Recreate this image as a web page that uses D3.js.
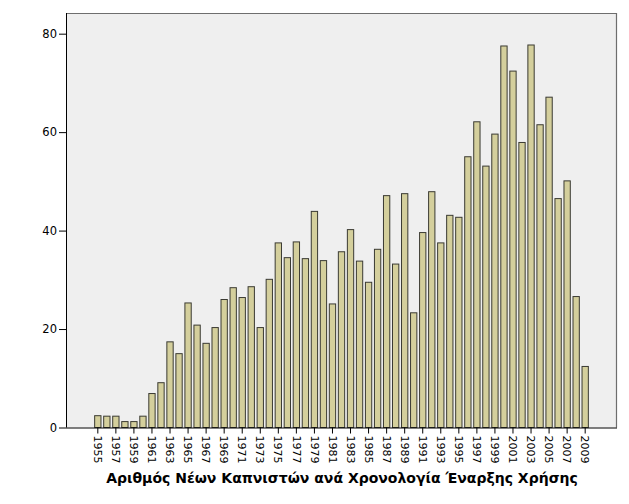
<!DOCTYPE html>
<html>
<head>
<meta charset="utf-8">
<script src="https://cdn.jsdelivr.net/npm/d3@7"></script>
<style>
  body { margin: 0; background: #fff; }
  svg { display: block; }
</style>
</head>
<body>
<svg id="chart" width="629" height="504"></svg>
<script>
const years = d3.range(1955, 2010);
const counts = [
  2.4, 2.3, 2.3, 1.2, 1.2, 2.3, 6.9, 9.1, 17.4, 15.0,
  25.3, 20.8, 17.1, 20.3, 26.0, 28.4, 26.4, 28.6, 20.3, 30.1,
  37.5, 34.5, 37.7, 34.3, 43.9, 33.9, 25.1, 35.7, 40.2, 33.8,
  29.5, 36.2, 47.1, 33.2, 47.5, 23.3, 39.6, 47.9, 37.5, 43.1,
  42.7, 55.0, 62.1, 53.1, 59.6, 77.5, 72.4, 57.9, 77.7, 61.5,
  67.1, 46.5, 50.1, 26.6, 12.4
];
const yTicks = [0, 20, 40, 60, 80];
const xTickYears = years.filter(y => (y - 1955) % 2 === 0);
const title = "Αριθμός Νέων Καπνιστών ανά Χρονολογία Έναρξης Χρήσης";

(function () {
const svg = d3.select("#chart");
const mLeft = 66, mRight = 617, mTop = 13, mBottom = 427.5;

const x = d3.scaleBand()
  .domain(years)
  .range([mLeft, mRight])
  .paddingInner(0.19)
  .paddingOuter(3.12);

const y = d3.scaleLinear()
  .domain([0, 84.2])
  .range([mBottom, mTop]);

svg.append("rect")
  .attr("x", mLeft).attr("y", mTop)
  .attr("width", mRight - mLeft).attr("height", mBottom - mTop)
  .attr("fill", "#efefef");

svg.append("path")
  .attr("d", `M${mLeft},${mTop + 0.5}H${mRight - 0.5}V${mBottom}`)
  .attr("fill", "none")
  .attr("stroke", "#6e6e6e")
  .attr("stroke-width", 1.2);

svg.append("g").selectAll("rect")
  .data(years.map((yr, i) => ({ yr, v: counts[i] })))
  .join("rect")
  .attr("x", d => x(d.yr) + 0.5)
  .attr("y", d => y(d.v))
  .attr("width", x.bandwidth() - 1)
  .attr("height", d => mBottom - y(d.v))
  .attr("fill", "#d4cf9c")
  .attr("stroke", "#3a3a32")
  .attr("stroke-width", 1);

const yAxis = d3.axisLeft(y).tickValues(yTicks).tickSize(7).tickPadding(2).tickSizeOuter(0);
const gy = svg.append("g").attr("transform", `translate(${mLeft},0)`).call(yAxis);
gy.select(".domain").attr("stroke", "#000").attr("d", `M0.5,${mTop}V${mBottom}`);
gy.selectAll(".tick line").attr("stroke", "#000");
gy.selectAll("text")
  .attr("font-family", "'DejaVu Sans', sans-serif")
  .attr("font-size", 11.5)
  .attr("fill", "#000");

const xAxis = d3.axisBottom(x).tickValues(xTickYears).tickSize(6).tickSizeOuter(0);
const gx = svg.append("g").attr("transform", `translate(0,${mBottom})`).call(xAxis);
gx.select(".domain").attr("stroke", "#000").attr("d", `M${mLeft},0.5H${mRight}`);
gx.selectAll(".tick line").attr("stroke", "#000");
gx.selectAll("text")
  .attr("font-family", "'DejaVu Sans', sans-serif")
  .attr("font-size", 11)
  .attr("fill", "#000")
  .attr("transform", "rotate(90)")
  .attr("text-anchor", "start")
  .attr("dy", "0.35em")
  .attr("x", 8)
  .attr("y", 0);

svg.append("text")
  .attr("x", 342)
  .attr("y", 483)
  .attr("text-anchor", "middle")
  .attr("font-family", "'DejaVu Sans', sans-serif")
  .attr("font-weight", "bold")
  .attr("font-size", 14)
  .attr("fill", "#000")
  .text(title);
})();
</script>
</body>
</html>
